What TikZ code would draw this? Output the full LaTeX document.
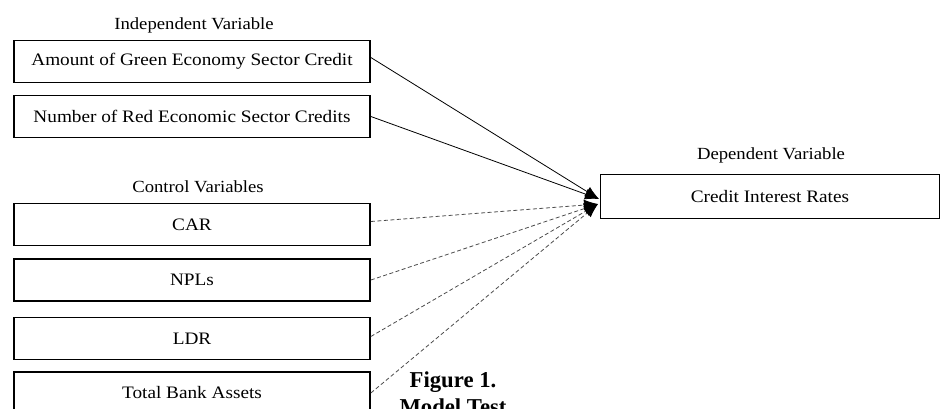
\documentclass[tikz,border=0pt]{standalone}
\usepackage{fontspec}
\setmainfont{Liberation Serif}[FakeStretch=1.1]
\newfontfamily\figfont{Liberation Serif}
\usetikzlibrary{arrows.meta}
\begin{document}
\begin{tikzpicture}[x=1pt,y=-1pt,
  box/.style={draw,line width=1.7pt,minimum width=356pt,minimum height=42pt,inner sep=0pt,font=\fontsize{17.5}{20}\selectfont},
  lbl/.style={font=\fontsize{17}{20}\selectfont,inner sep=0pt},
  solidc/.style={line width=0.8pt,-{Latex[length=14pt,width=11pt]}},
  dashc/.style={line width=0.8pt,draw=black!70,dash pattern=on 4pt off 2.5pt,-{Latex[length=14pt,width=11pt,color=black]}}]
\useasboundingbox (0,0) rectangle (941,409);

\node[lbl] (indep) at (194,25) {Independent Variable};
\node[box] (b1) at (192,61.5) {Amount of Green Economy Sector Credit};
\node[box] (b2) at (192,116.5) {Number of Red Economic Sector Credits};

\node[lbl] (ctrl) at (198,187) {Control Variables};
\node[box] (car) at (192,224.5) {CAR};
\node[box] (npl) at (192,280) {NPLs};
\node[box] (ldr) at (192,338.5) {LDR};
\node[box] (tba) at (192,393) {Total Bank Assets};

\node[lbl] (dep) at (771,155) {Dependent Variable};
\node[box,minimum width=339pt,minimum height=44pt] (cir) at (770,196.5) {Credit Interest Rates};

\node[font=\figfont\bfseries\fontsize{22.7}{27}\selectfont,inner sep=0pt,align=center,anchor=north] (fig) at (453,372) {Figure 1.\\Model Test};

\coordinate (ts) at (599,199);
\coordinate (td) at (598,204);

\draw[solidc] ([yshift=4pt]b1.east) -- (ts);
\draw[solidc] (b2.east) -- (ts);
\draw[dashc] ([yshift=3pt]car.east) -- (td);
\draw[dashc] (npl.east) -- (td);
\draw[dashc] ([yshift=2pt]ldr.east) -- (td);
\draw[dashc] (tba.east) -- (td);
\end{tikzpicture}
\end{document}
